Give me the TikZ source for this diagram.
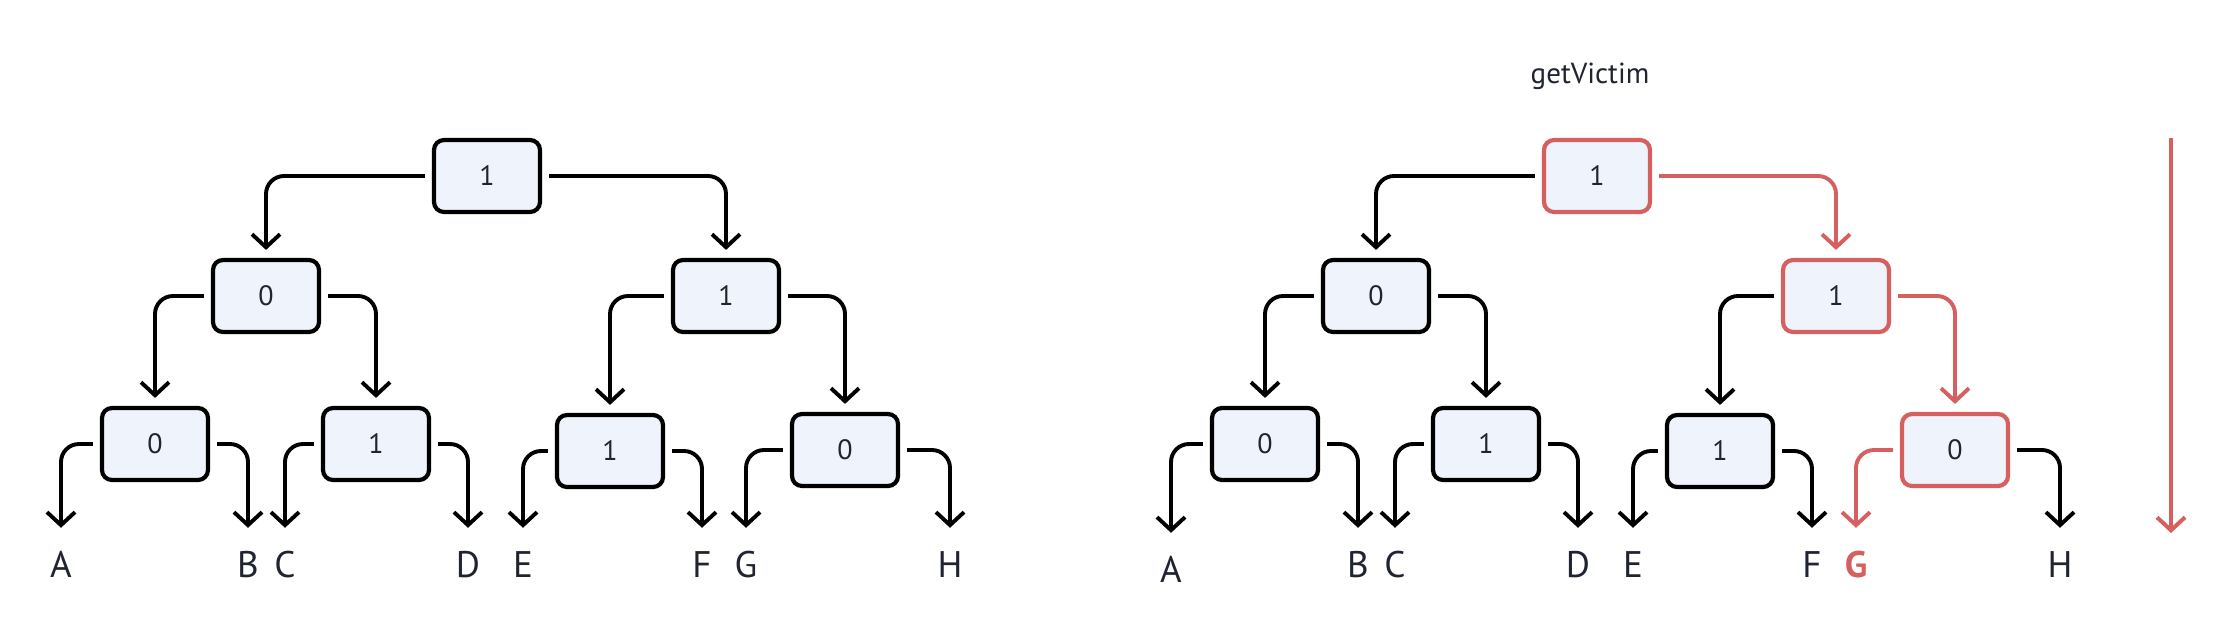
\documentclass[tikz,border=0pt]{standalone}
\usepackage{fontspec}
\setmainfont{PT Sans}
\usetikzlibrary{arrows.meta}
\definecolor{boxfill}{HTML}{EFF4FC}
\definecolor{ink}{HTML}{1F2430}
\definecolor{victimred}{HTML}{D65F5F}
\tikzset{>={Straight Barb[length=13pt,width=28pt]}}
\tikzset{block/.style = {shape=rectangle,rounded corners=10pt,draw,line width=4.2pt,fill=boxfill,minimum width=106pt,minimum height=72pt,inner sep=0pt,text=ink,font=\fontsize{28}{30}\selectfont}}
\tikzset{leaf/.style = {inner sep=0pt,text height=26pt,text depth=0pt,text=ink,font=\fontsize{37}{40}\selectfont}}
\tikzset{edge/.style = {->,line width=3.9pt,rounded corners=18pt,shorten <=7pt,shorten >=8pt}}
\tikzset{leafedge/.style = {edge,shorten >=23pt}}
\tikzset{picked/.style = {draw=victimred}}

\begin{document}
\begin{tikzpicture}[x=1pt,y=-1pt]
            \useasboundingbox (0,0) rectangle (2234,638);

            % left tree
            \node[block] (l1) at (487,176) {1};
            \node[block] (l2a) at (266,296) {0};
            \node[block] (l2b) at (726,296) {1};
            \node[block] (l3a) at (155,444) {0};
            \node[block] (l3b) at (376,444) {1};
            \node[block] (l3c) at (610,451) {1};
            \node[block] (l3d) at (845,450) {0};

            \node[leaf] (la) at (61,564) {A};
            \node[leaf] (lb) at (248,564) {B};
            \node[leaf] (lc) at (285,564) {C};
            \node[leaf] (ld) at (468,564) {D};
            \node[leaf] (le) at (523,564) {E};
            \node[leaf] (lf) at (702,564) {F};
            \node[leaf] (lg) at (746,564) {G};
            \node[leaf] (lh) at (950,564) {H};

            \draw[edge] (l1.west) -| (l2a.north);
            \draw[edge] (l1.east) -| (l2b.north);
            \draw[edge] (l2a.west) -| (l3a.north);
            \draw[edge] (l2a.east) -| (l3b.north);
            \draw[edge] (l2b.west) -| (l3c.north);
            \draw[edge] (l2b.east) -| (l3d.north);
            \draw[leafedge] (l3a.west) -| (la.north);
            \draw[leafedge] (l3a.east) -| (lb.north);
            \draw[leafedge] (l3b.west) -| (lc.north);
            \draw[leafedge] (l3b.east) -| (ld.north);
            \draw[leafedge] (l3c.west) -| (le.north);
            \draw[leafedge] (l3c.east) -| (lf.north);
            \draw[leafedge] (l3d.west) -| (lg.north);
            \draw[leafedge] (l3d.east) -| (lh.north);

            % right tree
            \node[text=ink,font=\fontsize{29}{31}\selectfont,anchor=base] (title) at (1590,83) {getVictim};

            \node[block,picked] (r1) at (1597,176) {1};
            \node[block] (r2a) at (1376,296) {0};
            \node[block,picked] (r2b) at (1836,296) {1};
            \node[block] (r3a) at (1265,444) {0};
            \node[block] (r3b) at (1486,444) {1};
            \node[block] (r3c) at (1720,451) {1};
            \node[block,picked] (r3d) at (1955,450) {0};

            \node[leaf] (ra) at (1171,569) {A};
            \node[leaf] (rb) at (1358,564) {B};
            \node[leaf] (rc) at (1395,564) {C};
            \node[leaf] (rd) at (1578,564) {D};
            \node[leaf] (re) at (1633,564) {E};
            \node[leaf] (rf) at (1812,564) {F};
            \node[leaf,text=victimred,font=\fontsize{37}{40}\selectfont\bfseries] (rg) at (1856,564) {G};
            \node[leaf] (rh) at (2060,564) {H};

            \draw[edge] (r1.west) -| (r2a.north);
            \draw[edge,picked] (r1.east) -| (r2b.north);
            \draw[edge] (r2a.west) -| (r3a.north);
            \draw[edge] (r2a.east) -| (r3b.north);
            \draw[edge] (r2b.west) -| (r3c.north);
            \draw[edge,picked] (r2b.east) -| (r3d.north);
            \draw[leafedge] (r3a.west) -| (ra.north);
            \draw[leafedge] (r3a.east) -| (rb.north);
            \draw[leafedge] (r3b.west) -| (rc.north);
            \draw[leafedge] (r3b.east) -| (rd.north);
            \draw[leafedge] (r3c.west) -| (re.north);
            \draw[leafedge] (r3c.east) -| (rf.north);
            \draw[leafedge,picked] (r3d.west) -| (rg.north);
            \draw[leafedge] (r3d.east) -| (rh.north);

            \coordinate (downtop) at (2171,138);
            \coordinate (downend) at (2171,533);
            \draw[edge,picked,line width=4pt,shorten <=0pt,shorten >=0pt] (downtop) -- (downend);
\end{tikzpicture}
\end{document}
